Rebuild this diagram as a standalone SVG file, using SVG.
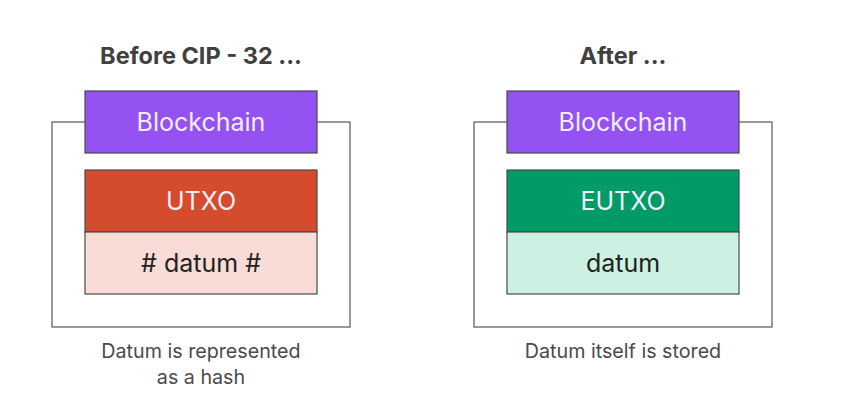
<svg xmlns="http://www.w3.org/2000/svg" width="844" height="415" viewBox="0 0 844 415">
<style>
.frame{fill:#fff;stroke:#555;stroke-width:1.2}
.box{stroke:#4a4a4a;stroke-width:1.2}
.title{font-family:Inter,"Liberation Sans",sans-serif;font-weight:700;font-size:23.5px;fill:#404040;text-anchor:middle}
.lbl{font-family:Inter,"Liberation Sans",sans-serif;font-size:25px;text-anchor:middle}
.light{fill:#f3eefb}
.dark{fill:#222}
.cap{font-family:Inter,"Liberation Sans",sans-serif;font-size:19.7px;fill:#4a4a4a;text-anchor:middle}
</style>
<rect width="844" height="415" fill="#fff"/>
<g id="before">
<text class="title" x="201" y="64">Before CIP - 32 ...</text>
<rect class="frame" x="52" y="122" width="298" height="205"/>
<g id="blockchain-before"><rect class="box" x="85" y="91" width="232" height="62" fill="#9452F2"/><text class="lbl light" x="201" y="131">Blockchain</text></g>
<g id="utxo"><rect class="box" x="85" y="170" width="232" height="62" fill="#D54B2E"/><text class="lbl light" x="201" y="210">UTXO</text></g>
<g id="hash-datum"><rect class="box" x="85" y="232" width="232" height="62" fill="#F8DCD5"/><text class="lbl dark" x="201" y="272"># datum #</text></g>
<text class="cap" x="201" y="358">Datum is represented</text>
<text class="cap" x="201" y="384">as a hash</text>
</g>
<g id="after">
<text class="title" x="623" y="64">After ...</text>
<rect class="frame" x="474" y="122" width="298" height="205"/>
<g id="blockchain-after"><rect class="box" x="507" y="91" width="232" height="62" fill="#9452F2"/><text class="lbl light" x="623" y="131">Blockchain</text></g>
<g id="eutxo"><rect class="box" x="507" y="170" width="232" height="62" fill="#009B66"/><text class="lbl light" x="623" y="210">EUTXO</text></g>
<g id="datum"><rect class="box" x="507" y="232" width="232" height="62" fill="#CCF0E1"/><text class="lbl dark" x="623" y="272">datum</text></g>
<text class="cap" x="623" y="358">Datum itself is stored</text>
</g>
<g id="connectors"/>
</svg>
